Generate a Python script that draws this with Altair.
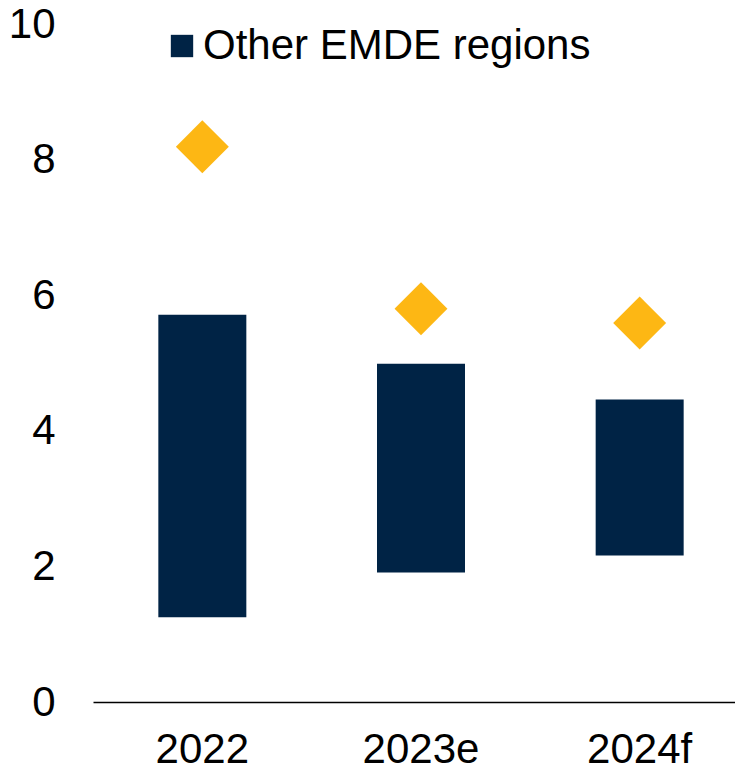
import altair as alt
import pandas as pd

years = ["2022", "2023e", "2024f"]
range_low = [1.25, 1.91, 2.16]
range_high = [5.71, 4.99, 4.46]
diamond_vals = [8.19, 5.80, 5.59]
series_name = "Other EMDE regions"

df = pd.DataFrame({
    "year": years,
    "low": range_low,
    "high": range_high,
    "point": diamond_vals,
    "series": [series_name] * len(years),
})

FONT = "Liberation Sans"
FS = 42

x_enc = alt.X(
    "year:N",
    sort=years,
    title=None,
    scale=alt.Scale(paddingInner=0, paddingOuter=0, range=[0, 656]),
    axis=alt.Axis(
        labelAngle=0, labelFontSize=FS, labelFont=FONT, labelColor="black",
        ticks=False, tickSize=0, labelPadding=27, domainColor="black",
        domainWidth=1.5, grid=False,
    ),
)
y_scale = alt.Scale(domain=[0, 10], nice=False, zero=True)
y_axis = alt.Axis(
    values=[0, 2, 4, 6, 8, 10], format="d", labelFontSize=FS, labelFont=FONT,
    labelColor="black", ticks=False, tickSize=0, domain=False, grid=False,
    labelPadding=38, title=None,
)

bars = alt.Chart(df).mark_bar(size=88).encode(
    x=x_enc,
    y=alt.Y("low:Q", scale=y_scale, axis=y_axis),
    y2="high:Q",
    color=alt.Color(
        "series:N",
        scale=alt.Scale(domain=[series_name], range=["#002345"]),
        legend=alt.Legend(
            title=None, orient="none", legendX=68, legendY=1,
            symbolType="square", symbolSize=500, symbolStrokeWidth=0,
            labelFontSize=FS, labelFont=FONT, labelColor="black",
            labelOffset=0, padding=0, labelLimit=600,
        ),
    ),
)

diamonds = alt.Chart(df).mark_point(
    shape="diamond", filled=True, size=2800, color="#FDB714", opacity=1
).encode(
    x=alt.X("year:N", sort=years),
    y=alt.Y("point:Q", scale=y_scale),
)

chart = alt.layer(bars, diamonds).properties(
    width=642,
    height=678,
    background="white",
    autosize=alt.AutoSizeParams(type="none"),
    padding={"left": 85, "top": 16, "right": 0, "bottom": 62},
).configure_view(stroke="transparent", strokeWidth=0)

chart.save("out.html", embed_options={"renderer": "svg", "actions": False})
